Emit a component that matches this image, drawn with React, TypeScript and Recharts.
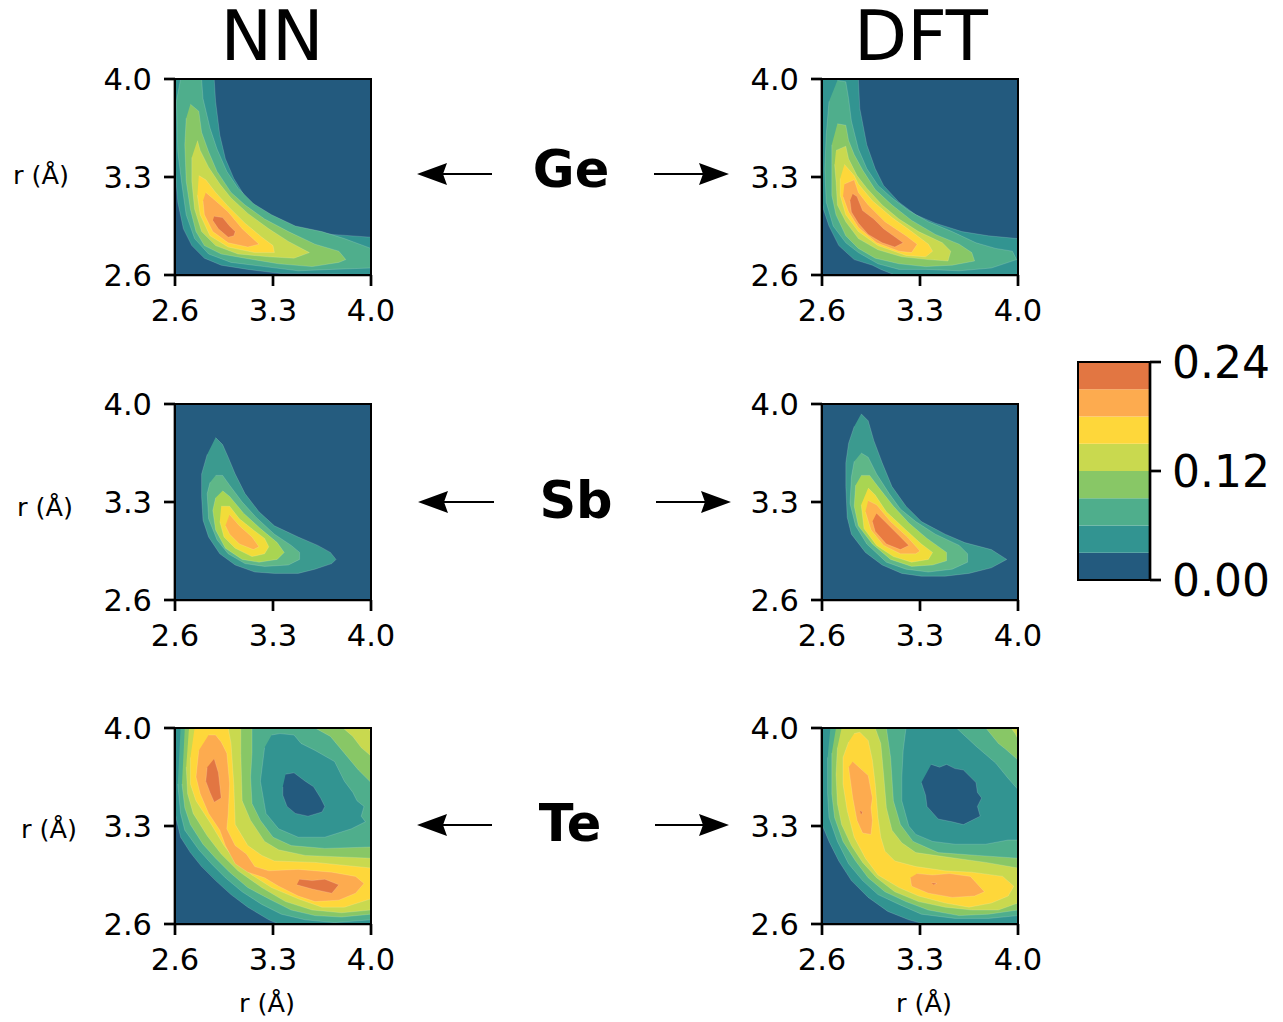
import { Bar, BarChart, Scatter, ScatterChart, XAxis, YAxis } from "recharts";

type Pt = [number, number];
type Layer = [number, Pt[]];

const axisTicks = [2.6, 3.3, 4.0];
const barTicks = [0, 0.12, 0.24];
const levelStep = 0.03;

// band colours, lowest level first
const mainColors = ["#235a7e", "#329491", "#4fae8c", "#88c766", "#c9d94f", "#fed73a", "#fdab4f", "#e27642"];
const sbColors = ["#255c7f", "#3b9a8f", "#5fb788", "#a9d552", "#f2dc39", "#feb24c", "#e97b41"];

const wholeBox: Pt[] = [[2.6, 2.6], [2.6, 4], [4, 4], [4, 2.6]];

// ---- Ge NN ----
const geNn1: Pt[] = [[2.6, 4], [2.88, 4], [2.89, 3.84], [2.92, 3.6], [2.96, 3.43], [3.02, 3.29], [3.1, 3.16], [3.22, 3.05], [3.36, 2.97], [3.53, 2.92], [3.72, 2.89], [4, 2.87], [4, 2.6], [3.6, 2.61], [3.36, 2.61], [3.12, 2.64], [2.93, 2.67], [2.81, 2.72], [2.72, 2.81], [2.66, 2.93], [2.62, 3.12], [2.6, 3.36]];
const geNn2: Pt[] = [[2.79, 4], [2.8, 3.86], [2.85, 3.65], [2.9, 3.5], [2.97, 3.34], [3.05, 3.22], [3.16, 3.11], [3.29, 3.03], [3.46, 2.95], [3.65, 2.91], [3.81, 2.86], [4, 2.79], [4, 2.65], [3.72, 2.64], [3.48, 2.63], [3.24, 2.66], [3, 2.69], [2.84, 2.75], [2.74, 2.86], [2.68, 3.03], [2.65, 3.24], [2.62, 3.48], [2.61, 3.84], [2.64, 4]];
const geNn3: Pt[] = [[2.71, 3.82], [2.77, 3.77], [2.79, 3.62], [2.84, 3.48], [2.9, 3.34], [3, 3.19], [3.1, 3.1], [3.24, 3], [3.41, 2.91], [3.6, 2.82], [3.77, 2.77], [3.82, 2.71], [3.77, 2.69], [3.58, 2.66], [3.34, 2.68], [3.1, 2.72], [2.93, 2.75], [2.81, 2.81], [2.75, 2.91], [2.71, 3.07], [2.68, 3.27], [2.67, 3.53], [2.68, 3.72]];
const geNn4: Pt[] = [[2.76, 3.56], [2.78, 3.49], [2.84, 3.37], [2.92, 3.25], [3, 3.15], [3.12, 3.04], [3.27, 2.93], [3.41, 2.84], [3.56, 2.76], [3.45, 2.72], [3.27, 2.73], [3.05, 2.75], [2.89, 2.81], [2.79, 2.91], [2.74, 3.07], [2.72, 3.27], [2.72, 3.44]];
const geNn5: Pt[] = [[2.77, 3.31], [2.82, 3.28], [2.89, 3.19], [2.98, 3.09], [3.1, 2.97], [3.22, 2.87], [3.3, 2.81], [3.31, 2.76], [3.17, 2.76], [2.98, 2.8], [2.85, 2.88], [2.78, 3.03], [2.76, 3.17]];
const geNn6: Pt[] = [[2.82, 3.19], [2.89, 3.13], [2.98, 3.05], [3.08, 2.93], [3.2, 2.82], [3.12, 2.8], [2.98, 2.83], [2.87, 2.91], [2.81, 3.03], [2.8, 3.13]];
const geNn7: Pt[] = [[2.88, 3.02], [2.94, 3.01], [2.99, 2.95], [3.03, 2.91], [3.02, 2.88], [2.98, 2.87], [2.91, 2.93], [2.87, 2.99]];

// ---- Ge DFT ----
const geDft1: Pt[] = [[2.6, 4], [2.86, 4], [2.87, 3.79], [2.92, 3.53], [2.98, 3.36], [3.04, 3.24], [3.15, 3.12], [3.27, 3.03], [3.41, 2.97], [3.6, 2.91], [3.79, 2.88], [4, 2.86], [4, 2.6], [3.12, 2.6], [3.02, 2.64], [2.96, 2.67], [2.83, 2.71], [2.72, 2.81], [2.65, 2.95], [2.61, 3.07], [2.6, 3.13]];
const geDft2: Pt[] = [[2.71, 3.99], [2.77, 3.98], [2.79, 3.86], [2.81, 3.7], [2.86, 3.5], [2.92, 3.36], [3, 3.24], [3.1, 3.15], [3.22, 3.06], [3.36, 2.98], [3.53, 2.91], [3.7, 2.83], [3.84, 2.79], [3.96, 2.77], [3.99, 2.71], [3.81, 2.65], [3.58, 2.63], [3.34, 2.64], [3.15, 2.64], [3, 2.68], [2.86, 2.76], [2.77, 2.83], [2.68, 2.95], [2.63, 3.12], [2.62, 3.36], [2.63, 3.6], [2.65, 3.84]];
const geDft3: Pt[] = [[2.71, 3.68], [2.77, 3.67], [2.79, 3.56], [2.83, 3.46], [2.89, 3.35], [2.98, 3.21], [3.1, 3.1], [3.24, 2.99], [3.41, 2.89], [3.58, 2.82], [3.67, 2.76], [3.69, 2.7], [3.53, 2.67], [3.34, 2.66], [3.15, 2.68], [2.98, 2.72], [2.86, 2.79], [2.77, 2.88], [2.7, 3.03], [2.67, 3.17], [2.67, 3.39], [2.67, 3.53]];
const geDft4: Pt[] = [[2.7, 3.49], [2.77, 3.52], [2.79, 3.43], [2.85, 3.31], [2.92, 3.22], [3.03, 3.1], [3.15, 3], [3.29, 2.91], [3.46, 2.83], [3.52, 2.77], [3.5, 2.7], [3.36, 2.71], [3.17, 2.73], [3, 2.78], [2.86, 2.86], [2.77, 2.98], [2.71, 3.1], [2.7, 3.27], [2.69, 3.39]];
const geDft5: Pt[] = [[2.76, 3.39], [2.83, 3.31], [2.86, 3.25], [2.96, 3.13], [3.1, 3.01], [3.24, 2.91], [3.36, 2.82], [3.39, 2.77], [3.34, 2.73], [3.2, 2.74], [3, 2.81], [2.86, 2.91], [2.77, 3.03], [2.73, 3.17], [2.73, 3.29]];
const geDft6: Pt[] = [[2.76, 3.25], [2.83, 3.28], [2.86, 3.19], [2.93, 3.1], [3.05, 2.98], [3.2, 2.88], [3.28, 2.82], [3.24, 2.76], [3.15, 2.77], [2.99, 2.83], [2.86, 2.94], [2.79, 3.05], [2.75, 3.16]];
const geDft7: Pt[] = [[2.82, 3.18], [2.85, 3.16], [2.89, 3.06], [2.97, 3], [3.04, 2.93], [3.11, 2.88], [3.18, 2.83], [3.12, 2.8], [3.03, 2.83], [2.93, 2.89], [2.86, 2.97], [2.81, 3.05], [2.8, 3.13]];

// ---- Sb NN ----
const sbNn1: Pt[] = [[2.89, 3.76], [2.94, 3.71], [2.98, 3.62], [3.03, 3.5], [3.1, 3.36], [3.2, 3.23], [3.31, 3.13], [3.48, 3.05], [3.62, 2.99], [3.71, 2.94], [3.75, 2.89], [3.72, 2.86], [3.6, 2.82], [3.48, 2.79], [3.31, 2.79], [3.17, 2.8], [3.03, 2.85], [2.92, 2.93], [2.84, 3.05], [2.8, 3.17], [2.79, 3.34], [2.79, 3.5], [2.83, 3.64]];
const sbNn2: Pt[] = [[2.89, 3.49], [2.94, 3.49], [2.99, 3.42], [3.08, 3.3], [3.18, 3.19], [3.31, 3.07], [3.43, 2.99], [3.49, 2.94], [3.49, 2.89], [3.41, 2.85], [3.24, 2.84], [3.1, 2.86], [2.98, 2.93], [2.9, 3.03], [2.84, 3.18], [2.83, 3.36], [2.85, 3.44]];
const sbNn3: Pt[] = [[2.94, 3.38], [2.99, 3.34], [3.09, 3.22], [3.21, 3.11], [3.33, 3.01], [3.38, 2.94], [3.33, 2.89], [3.2, 2.87], [3.08, 2.89], [2.96, 2.97], [2.89, 3.1], [2.87, 3.24], [2.89, 3.33]];
const sbNn4: Pt[] = [[2.93, 3.27], [2.99, 3.27], [3.06, 3.18], [3.16, 3.1], [3.24, 3.04], [3.27, 2.98], [3.24, 2.93], [3.15, 2.91], [3.03, 2.97], [2.95, 3.05], [2.92, 3.16]];
const sbNn5: Pt[] = [[2.99, 3.21], [3.06, 3.13], [3.15, 3.05], [3.2, 2.98], [3.16, 2.96], [3.06, 3], [2.99, 3.07], [2.96, 3.13]];

// ---- Sb DFT ----
const sbDft1: Pt[] = [[2.88, 3.93], [2.93, 3.88], [2.97, 3.74], [3.03, 3.58], [3.1, 3.41], [3.2, 3.27], [3.31, 3.16], [3.48, 3.07], [3.62, 3.01], [3.81, 2.96], [3.92, 2.89], [3.81, 2.83], [3.65, 2.79], [3.48, 2.77], [3.31, 2.77], [3.17, 2.79], [3.03, 2.85], [2.91, 2.94], [2.81, 3.07], [2.78, 3.19], [2.77, 3.41], [2.77, 3.58], [2.79, 3.72], [2.83, 3.84]];
const sbDft2: Pt[] = [[2.88, 3.65], [2.93, 3.62], [2.99, 3.5], [3.08, 3.36], [3.16, 3.25], [3.27, 3.16], [3.41, 3.07], [3.58, 2.99], [3.64, 2.93], [3.64, 2.87], [3.53, 2.82], [3.36, 2.8], [3.2, 2.82], [3.06, 2.87], [2.92, 3], [2.84, 3.13], [2.8, 3.29], [2.81, 3.48], [2.83, 3.59]];
const sbDft3: Pt[] = [[2.88, 3.49], [2.94, 3.49], [3, 3.41], [3.11, 3.27], [3.22, 3.15], [3.35, 3.04], [3.49, 2.94], [3.49, 2.88], [3.39, 2.85], [3.24, 2.84], [3.09, 2.89], [2.96, 3], [2.86, 3.13], [2.83, 3.27], [2.84, 3.42]];
const sbDft4: Pt[] = [[2.93, 3.4], [2.98, 3.35], [3.06, 3.23], [3.2, 3.1], [3.31, 3], [3.39, 2.94], [3.36, 2.89], [3.24, 2.87], [3.11, 2.91], [2.99, 2.99], [2.9, 3.11], [2.88, 3.28]];
const sbDft5: Pt[] = [[2.93, 3.31], [2.99, 3.28], [3.09, 3.16], [3.21, 3.05], [3.3, 2.95], [3.27, 2.93], [3.16, 2.93], [3.04, 2.99], [2.95, 3.1], [2.91, 3.23]];
const sbDft6: Pt[] = [[2.99, 3.22], [3.05, 3.16], [3.15, 3.06], [3.22, 2.99], [3.16, 2.96], [3.06, 3], [2.98, 3.09], [2.96, 3.16]];

// ---- Te NN ----  rising side from the lower left corner
const teNn1: Pt[] = [[2.6, 4], [4, 4], [4, 2.6], [3.34, 2.6], [3.27, 2.63], [3.12, 2.72], [3, 2.81], [2.89, 2.91], [2.79, 3.01], [2.71, 3.11], [2.64, 3.22], [2.6, 3.39]];
const teNn2: Pt[] = [[2.64, 4], [4, 4], [4, 2.63], [3.74, 2.61], [3.53, 2.63], [3.36, 2.67], [3.22, 2.74], [3.08, 2.83], [2.96, 2.93], [2.86, 3.03], [2.77, 3.13], [2.67, 3.27], [2.64, 3.39], [2.62, 3.6]];
const teNn3: Pt[] = [[2.67, 4], [4, 4], [4, 2.67], [3.79, 2.65], [3.6, 2.66], [3.43, 2.7], [3.27, 2.78], [3.12, 2.86], [2.99, 2.97], [2.89, 3.07], [2.8, 3.17], [2.71, 3.31], [2.67, 3.43], [2.65, 3.6]];
const teNn4: Pt[] = [[2.7, 4], [4, 4], [4, 2.7], [3.79, 2.68], [3.58, 2.7], [3.39, 2.76], [3.22, 2.86], [3.05, 2.98], [2.93, 3.1], [2.83, 3.23], [2.73, 3.39], [2.69, 3.53], [2.68, 3.72]];
const teNn5: Pt[] = [[2.74, 4], [4, 4], [4, 2.78], [3.81, 2.72], [3.65, 2.72], [3.48, 2.78], [3.29, 2.86], [3.15, 2.95], [3.05, 3.03], [2.95, 3.16], [2.86, 3.31], [2.75, 3.48], [2.71, 3.6], [2.71, 3.79]];
// falling side towards the hollow
const teNnDown4: Pt[] = [[2.98, 4], [3, 3.89], [3.02, 3.6], [3.03, 3.31], [3.12, 3.16], [3.22, 3.09], [3.31, 3.05], [3.6, 3.04], [4, 3], [4, 4]];
const teNnDown3: Pt[] = [[3.07, 4], [3.07, 3.82], [3.08, 3.48], [3.14, 3.34], [3.24, 3.19], [3.34, 3.13], [3.53, 3.09], [4, 3.07], [4, 4]];
const teNnDown2: Pt[] = [[3.15, 4], [3.15, 3.82], [3.14, 3.65], [3.15, 3.46], [3.21, 3.34], [3.3, 3.22], [3.43, 3.16], [3.67, 3.14], [4, 3.15], [4, 4]];
const teNnDown1: Pt[] = [[3.29, 3.95], [3.35, 3.96], [3.45, 3.95], [3.5, 3.89], [3.6, 3.84], [3.74, 3.76], [3.81, 3.62], [3.87, 3.54], [3.9, 3.48], [3.95, 3.44], [3.93, 3.37], [3.96, 3.33], [3.86, 3.28], [3.67, 3.22], [3.48, 3.22], [3.34, 3.28], [3.25, 3.39], [3.21, 3.62], [3.24, 3.86]];
const teNnHole: Pt[] = [[3.39, 3.67], [3.45, 3.68], [3.53, 3.62], [3.59, 3.58], [3.64, 3.5], [3.67, 3.44], [3.65, 3.4], [3.55, 3.37], [3.46, 3.39], [3.4, 3.44], [3.37, 3.52], [3.37, 3.58]];
const teNnCorner3: Pt[] = [[3.6, 4], [3.71, 3.94], [3.81, 3.82], [3.91, 3.7], [4, 3.61], [4, 4]];
const teNnCorner4: Pt[] = [[3.8, 4], [3.87, 3.94], [3.93, 3.86], [4, 3.8], [4, 4]];
const teNnCorner5: Pt[] = [[3.98, 4], [4, 3.97], [4, 4]];
const teNnRidge: Pt[] = [[2.84, 3.95], [2.89, 3.95], [2.93, 3.9], [2.97, 3.82], [2.99, 3.6], [2.98, 3.39], [2.97, 3.28], [3.03, 3.16], [3.11, 3.1], [3.17, 3.01], [3.27, 2.98], [3.48, 2.99], [3.72, 2.97], [3.89, 2.94], [3.95, 2.89], [3.89, 2.82], [3.77, 2.77], [3.6, 2.76], [3.48, 2.8], [3.34, 2.87], [3.24, 2.93], [3.12, 2.97], [3.03, 3.03], [2.96, 3.16], [2.92, 3.27], [2.84, 3.39], [2.78, 3.53], [2.75, 3.65], [2.77, 3.84]];
const teNnPeakA: Pt[] = [[2.88, 3.78], [2.91, 3.68], [2.93, 3.5], [2.88, 3.47], [2.85, 3.54], [2.82, 3.62], [2.83, 3.72]];
const teNnPeakB: Pt[] = [[3.49, 2.92], [3.58, 2.91], [3.67, 2.92], [3.77, 2.88], [3.72, 2.82], [3.58, 2.85], [3.47, 2.88]];

// ---- Te DFT ----
const teDft1: Pt[] = [[2.6, 4], [4, 4], [4, 2.6], [3.33, 2.6], [3.22, 2.63], [3.07, 2.69], [2.93, 2.79], [2.81, 2.91], [2.72, 3.05], [2.65, 3.19], [2.6, 3.31]];
const teDft2: Pt[] = [[2.66, 4], [4, 4], [4, 2.66], [3.79, 2.64], [3.55, 2.64], [3.31, 2.67], [3.15, 2.74], [3, 2.81], [2.89, 2.91], [2.79, 3.03], [2.71, 3.19], [2.65, 3.36], [2.64, 3.53], [2.64, 3.79]];
const teDft3: Pt[] = [[2.7, 4], [4, 4], [4, 2.7], [3.79, 2.67], [3.58, 2.66], [3.36, 2.7], [3.2, 2.76], [3.05, 2.83], [2.93, 2.93], [2.84, 3.05], [2.75, 3.19], [2.69, 3.36], [2.67, 3.53], [2.67, 3.82]];
const teDft4: Pt[] = [[2.74, 4], [4, 4], [4, 2.75], [3.86, 2.7], [3.67, 2.7], [3.48, 2.72], [3.29, 2.76], [3.12, 2.83], [2.99, 2.93], [2.89, 3.04], [2.81, 3.16], [2.74, 3.31], [2.71, 3.46], [2.7, 3.67], [2.71, 3.86]];
const teDftDown3: Pt[] = [[2.98, 4], [3.02, 3.89], [3.04, 3.67], [3.06, 3.43], [3.1, 3.27], [3.17, 3.18], [3.27, 3.11], [3.48, 3.08], [3.77, 3.04], [4, 3], [4, 4]];
const teDftDown2: Pt[] = [[3.06, 4], [3.09, 3.79], [3.11, 3.48], [3.16, 3.31], [3.25, 3.19], [3.43, 3.11], [3.71, 3.09], [4, 3.07], [4, 4]];
const teDftDown1: Pt[] = [[3.2, 4], [3.18, 3.84], [3.17, 3.65], [3.17, 3.48], [3.22, 3.3], [3.27, 3.24], [3.39, 3.19], [3.55, 3.17], [3.77, 3.17], [3.93, 3.2], [4, 3.2], [4, 3.56], [3.93, 3.64], [3.84, 3.75], [3.7, 3.87], [3.56, 4]];
const teDftHole: Pt[] = [[3.38, 3.74], [3.44, 3.72], [3.49, 3.74], [3.55, 3.71], [3.61, 3.7], [3.7, 3.61], [3.71, 3.54], [3.74, 3.5], [3.71, 3.44], [3.73, 3.37], [3.61, 3.31], [3.53, 3.33], [3.43, 3.35], [3.35, 3.44], [3.34, 3.52], [3.31, 3.61]];
const teDftCorner3: Pt[] = [[3.77, 4], [3.86, 3.89], [3.91, 3.85], [3.99, 3.78], [4, 3.77], [4, 4]];
const teDftCorner4: Pt[] = [[3.95, 4], [3.98, 3.96], [4, 3.92], [4, 4]];
const teDftRidge: Pt[] = [[2.83, 3.96], [2.87, 3.97], [2.93, 3.91], [2.96, 3.77], [2.98, 3.6], [3, 3.36], [3.02, 3.22], [3.05, 3.12], [3.12, 3.05], [3.27, 3.01], [3.48, 2.98], [3.67, 2.97], [3.89, 2.94], [3.97, 2.87], [3.93, 2.8], [3.81, 2.75], [3.65, 2.72], [3.48, 2.75], [3.29, 2.8], [3.15, 2.86], [3, 2.95], [2.91, 3.07], [2.83, 3.22], [2.78, 3.41], [2.75, 3.6], [2.75, 3.79], [2.79, 3.9]];
const teDftTopA: Pt[] = [[2.82, 3.76], [2.93, 3.66], [2.96, 3.5], [2.95, 3.43], [2.96, 3.34], [2.95, 3.24], [2.89, 3.25], [2.85, 3.34], [2.82, 3.5], [2.79, 3.72]];
const teDftTopB: Pt[] = [[3.28, 2.96], [3.39, 2.95], [3.51, 2.96], [3.66, 2.94], [3.76, 2.83], [3.69, 2.8], [3.53, 2.79], [3.36, 2.82], [3.24, 2.87], [3.23, 2.93]];
const teDftSpeckA: Pt[] = [[2.87, 3.41], [2.89, 3.4], [2.88, 3.38]];
const teDftSpeckB: Pt[] = [[3.38, 2.895], [3.42, 2.89], [3.4, 2.88]];

const box: Layer = [0, wholeBox];

const geNnLayers: Layer[] = [box, [1, geNn1], [2, geNn2], [3, geNn3], [4, geNn4], [5, geNn5], [6, geNn6], [7, geNn7]];
const geDftLayers: Layer[] = [box, [1, geDft1], [2, geDft2], [3, geDft3], [4, geDft4], [5, geDft5], [6, geDft6], [7, geDft7]];
const sbNnLayers: Layer[] = [box, [1, sbNn1], [2, sbNn2], [3, sbNn3], [4, sbNn4], [5, sbNn5]];
const sbDftLayers: Layer[] = [box, [1, sbDft1], [2, sbDft2], [3, sbDft3], [4, sbDft4], [5, sbDft5], [6, sbDft6]];
const teNnLayers: Layer[] = [box, [1, teNn1], [2, teNn2], [3, teNn3], [4, teNn4], [5, teNn5], [4, teNnDown4], [3, teNnDown3], [2, teNnDown2], [1, teNnDown1], [0, teNnHole], [3, teNnCorner3], [4, teNnCorner4], [5, teNnCorner5], [6, teNnRidge], [7, teNnPeakA], [7, teNnPeakB]];
const teDftLayers: Layer[] = [box, [1, teDft1], [2, teDft2], [3, teDft3], [4, teDft4], [3, teDftDown3], [2, teDftDown2], [1, teDftDown1], [0, teDftHole], [3, teDftCorner3], [4, teDftCorner4], [5, teDftRidge], [6, teDftTopA], [6, teDftTopB], [7, teDftSpeckA], [7, teDftSpeckB]];

const barRow = [{ name: "scale", ...Object.fromEntries(mainColors.map((_, i) => ["b" + i, levelStep])) }];

const font = "DejaVu Sans";
const spine = { stroke: "#000", strokeWidth: 2.7 };

function Panel({ left, top, layers, colors }: { left: number; top: number; layers: Layer[]; colors: string[] }) {
  return (
    <div style={{ position: "absolute", left: left - 100, top: top - 30 }}>
      <ScatterChart width={336} height={290} margin={{ top: 30, right: 40, left: 0, bottom: 0 }}>
        <XAxis
          type="number"
          dataKey="x"
          domain={[2.6, 4]}
          ticks={axisTicks}
          interval={0}
          height={64}
          tickSize={11}
          tickMargin={13}
          tickFormatter={(v: number) => v.toFixed(1)}
          tick={{ fontSize: 30.5, fill: "#000", fontFamily: font }}
          axisLine={spine}
          tickLine={spine}
        />
        <YAxis
          type="number"
          dataKey="y"
          domain={[2.6, 4]}
          ticks={axisTicks}
          interval={0}
          width={100}
          tickSize={11}
          tickMargin={12}
          tickFormatter={(v: number) => v.toFixed(1)}
          tick={{ fontSize: 30.5, fill: "#000", fontFamily: font }}
          axisLine={spine}
          tickLine={spine}
        />
        {layers.map(([level, pts], i) => (
          <Scatter
            key={i}
            data={pts.map(([x, y]) => ({ x, y }))}
            isAnimationActive={false}
            lineType="joint"
            line={{ fill: colors[level], stroke: "#fff", strokeOpacity: 0.3, strokeWidth: 0.5 }}
            shape={() => <g />}
          />
        ))}
      </ScatterChart>
      {/* frame sits above the contour layers */}
      <div style={{ position: "absolute", left: 98.65, top: 28.65, width: 198.7, height: 198.7, border: "2.7px solid #000", boxSizing: "border-box" }} />
    </div>
  );
}

function ColorBar() {
  return (
    <div style={{ position: "absolute", left: 1078, top: 332 }}>
      <BarChart width={205} height={278} data={barRow} barCategoryGap={0} margin={{ top: 30, right: 0, left: 0, bottom: 30 }}>
        <XAxis hide dataKey="name" />
        <YAxis
          orientation="right"
          domain={[0, 0.24]}
          ticks={barTicks}
          interval={0}
          width={133}
          tickSize={11}
          tickMargin={11}
          tickFormatter={(v: number) => v.toFixed(2)}
          tick={{ fontSize: 44, fill: "#000", fontFamily: font, textAnchor: "start" }}
          axisLine={spine}
          tickLine={spine}
        />
        {mainColors.map((c, i) => (
          <Bar key={c} dataKey={"b" + i} stackId="bar" fill={c} isAnimationActive={false} />
        ))}
      </BarChart>
      <div style={{ position: "absolute", left: -1, top: 29, width: 73.5, height: 220, border: "2.7px solid #000", boxSizing: "border-box" }} />
    </div>
  );
}

function Arrow({ tail, tip, y }: { tail: number; tip: number; y: number }) {
  const d = tip > tail ? 1 : -1;
  return (
    <g>
      <line x1={tail} x2={tip - d * 20} y1={y} y2={y} stroke="#000" strokeWidth={2.2} />
      <polygon
        points={`${tip},${y} ${tip - d * 30},${y - 11} ${tip - d * 26},${y} ${tip - d * 30},${y + 11}`}
        fill="#000"
      />
    </g>
  );
}

function Labels() {
  const small = { fontSize: 25.6, fontFamily: font, textAnchor: "middle" as const };
  const big = { fontSize: 69, fontFamily: font, textAnchor: "middle" as const };
  const bold = { fontSize: 51, fontFamily: font, fontWeight: 700, textAnchor: "middle" as const };
  return (
    <svg width={1283} height={1022} style={{ position: "absolute", left: 0, top: 0, pointerEvents: "none" }}>
      <text x={272} y={60} {...big}>NN</text>
      <text x={921} y={60} {...big}>DFT</text>
      <text x={571} y={187} {...bold}>Ge</text>
      <text x={576} y={518} {...bold}>Sb</text>
      <text x={570} y={841} {...bold}>Te</text>
      <text x={41} y={184} {...small}>r (Å)</text>
      <text x={45} y={516} {...small}>r (Å)</text>
      <text x={49} y={838} {...small}>r (Å)</text>
      <text x={267} y={1012} {...small}>r (Å)</text>
      <text x={924} y={1012} {...small}>r (Å)</text>
      <Arrow tail={492} tip={417} y={174} />
      <Arrow tail={654} tip={729} y={174} />
      <Arrow tail={494} tip={418} y={502} />
      <Arrow tail={656} tip={731} y={502} />
      <Arrow tail={492} tip={417} y={825} />
      <Arrow tail={655} tip={729} y={825} />
    </svg>
  );
}

export default function App() {
  return (
    <div style={{ position: "absolute", left: 0, top: 0, width: 1283, height: 1022, background: "#fff" }}>
      <Panel left={175} top={79} layers={geNnLayers} colors={mainColors} />
      <Panel left={822} top={79} layers={geDftLayers} colors={mainColors} />
      <Panel left={175} top={404} layers={sbNnLayers} colors={sbColors} />
      <Panel left={822} top={404} layers={sbDftLayers} colors={sbColors} />
      <Panel left={175} top={728} layers={teNnLayers} colors={mainColors} />
      <Panel left={822} top={728} layers={teDftLayers} colors={mainColors} />
      <ColorBar />
      <Labels />
    </div>
  );
}
